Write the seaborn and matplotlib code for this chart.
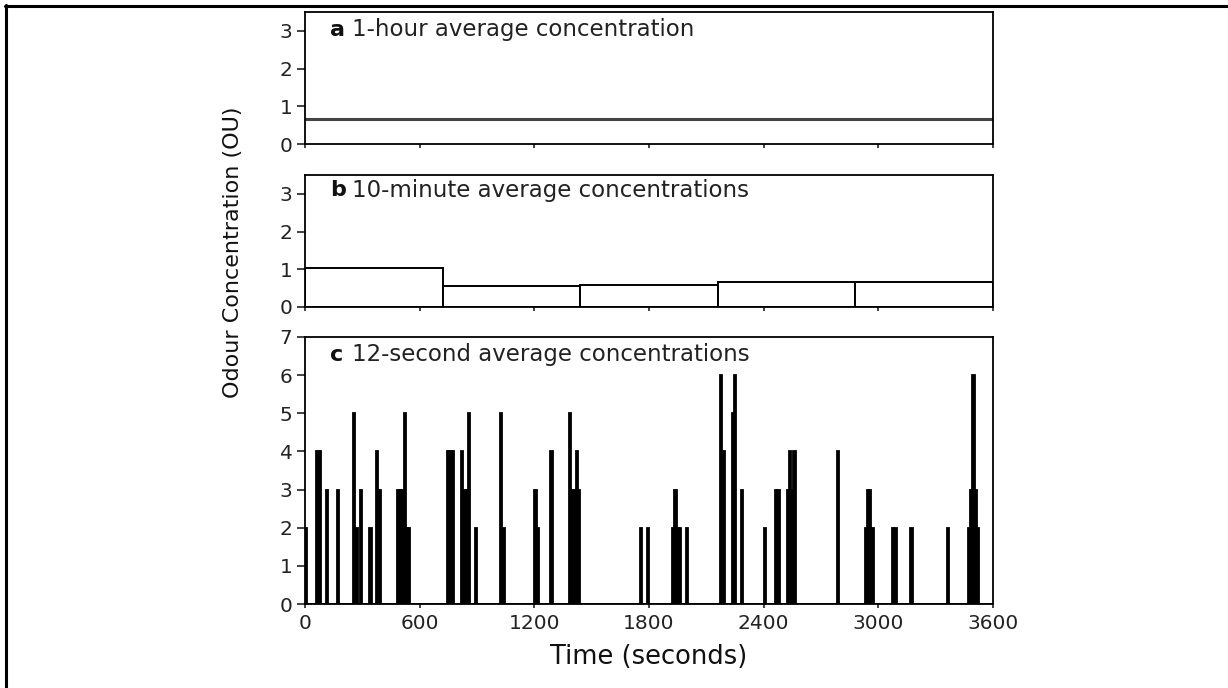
import seaborn as sns
import matplotlib
matplotlib.use("Agg")
import matplotlib.pyplot as plt
from matplotlib.lines import Line2D

# panel a: 1-hour average
hour_x = [0, 3600]
hour_y = [0.66, 0.66]

# panel b: block averages (start of block, value)
block_edges = [0, 720, 1440, 2160, 2880, 3600]
block_start = [0, 720, 1440, 2160, 2880]
block_vals = [1.03, 0.56, 0.58, 0.65, 0.65]

# panel c: 12-second averages (non-zero bins only)
t12 = [0, 60, 72, 108, 168, 252, 264, 288, 336, 372, 384, 480, 492, 504, 516,
       528, 540, 744, 756, 768, 816, 828, 840, 852, 888, 1020, 1032, 1200, 1212,
       1284, 1380, 1392, 1404, 1416, 1428, 1752, 1788, 1920, 1932, 1944, 1956,
       1992, 2172, 2184, 2232, 2244, 2280, 2400, 2460, 2472, 2520, 2532, 2544,
       2556, 2784, 2928, 2940, 2952, 2964, 3072, 3084, 3168, 3360, 3468, 3480,
       3492, 3504, 3516]
c12 = [2, 4, 4, 3, 3, 5, 2, 3, 2, 4, 3, 3, 3, 3, 5,
       2, 2, 4, 4, 4, 4, 3, 3, 5, 2, 5, 2, 3, 2,
       4, 5, 3, 3, 4, 3, 2, 2, 2, 3, 2, 2,
       2, 6, 4, 5, 6, 3, 2, 3, 3, 3, 4, 3,
       4, 4, 2, 3, 3, 2, 2, 2, 2, 2, 2, 3,
       6, 3, 2]
bins12 = list(range(0, 3601, 12))

xticks = [0, 600, 1200, 1800, 2400, 3000, 3600]

sns.set_style("ticks")
plt.rcParams['font.family'] = ['DejaVu Sans']
plt.rcParams['axes.linewidth'] = 1.3
plt.rcParams['axes.edgecolor'] = 'black'

fig = plt.figure(figsize=(12.28, 6.88), dpi=100)
W, H = 1228, 688


def place(left, top, right, bottom):
    return fig.add_axes([left / W, 1 - bottom / H, (right - left) / W, (bottom - top) / H])


ax_a = place(305, 12, 993, 144)
ax_b = place(305, 175, 993, 307)
ax_c = place(305, 337, 993, 604)

sns.lineplot(x=hour_x, y=hour_y, ax=ax_a, color='#444444', lw=2.2)

sns.histplot(x=block_start, weights=block_vals, bins=block_edges, ax=ax_b,
             color='white', edgecolor='black', linewidth=1.4, alpha=1)

sns.histplot(x=t12, weights=c12, bins=bins12, ax=ax_c,
             color='black', edgecolor='black', linewidth=1.3, alpha=1)

for ax in (ax_a, ax_b, ax_c):
    ax.set_xlim(0, 3600)
    ax.set_xticks(xticks)
    ax.set_xlabel('')
    ax.set_ylabel('')
    ax.tick_params(axis='y', length=6, width=1.2, labelsize=14.5, pad=3,
                   colors='#222222')
    ax.tick_params(axis='x', length=3, width=1.2, labelsize=14.5, pad=4,
                   colors='#222222')
    for s in ax.spines.values():
        s.set_visible(True)

for ax in (ax_a, ax_b):
    ax.set_ylim(0, 3.5)
    ax.set_yticks([0, 1, 2, 3])
    ax.set_xticklabels([])

ax_c.set_ylim(0, 7)
ax_c.set_yticks(range(8))

panels = [(ax_a, 'a', '1-hour average concentration', 0.864),
          (ax_b, 'b', '10-minute average concentrations', 0.886),
          (ax_c, 'c', '12-second average concentrations', 0.933)]
for ax, letter, text, ypos in panels:
    ax.text(0.036, ypos, letter, transform=ax.transAxes, fontsize=16,
            fontweight='bold', va='center', ha='left', color='#111111')
    ax.text(0.068, ypos, text, transform=ax.transAxes, fontsize=16.5,
            va='center', ha='left', color='#222222')

ax_c.set_xlabel('Time (seconds)', fontsize=18.5, labelpad=8, color='#111111')
fig.text(233 / W, 1 - 252 / H, 'Odour Concentration (OU)', rotation=90,
         fontsize=16, va='center', ha='center', color='#111111')

# frame lines along the top and left edges of the image
fig.add_artist(Line2D([5 / W, 1], [1 - 6 / H, 1 - 6 / H], transform=fig.transFigure,
                      color='black', lw=2.2))
fig.add_artist(Line2D([6 / W, 6 / W], [0, 1 - 5 / H], transform=fig.transFigure,
                      color='black', lw=2.2))

fig.savefig('out.png', dpi=100, facecolor='white')
